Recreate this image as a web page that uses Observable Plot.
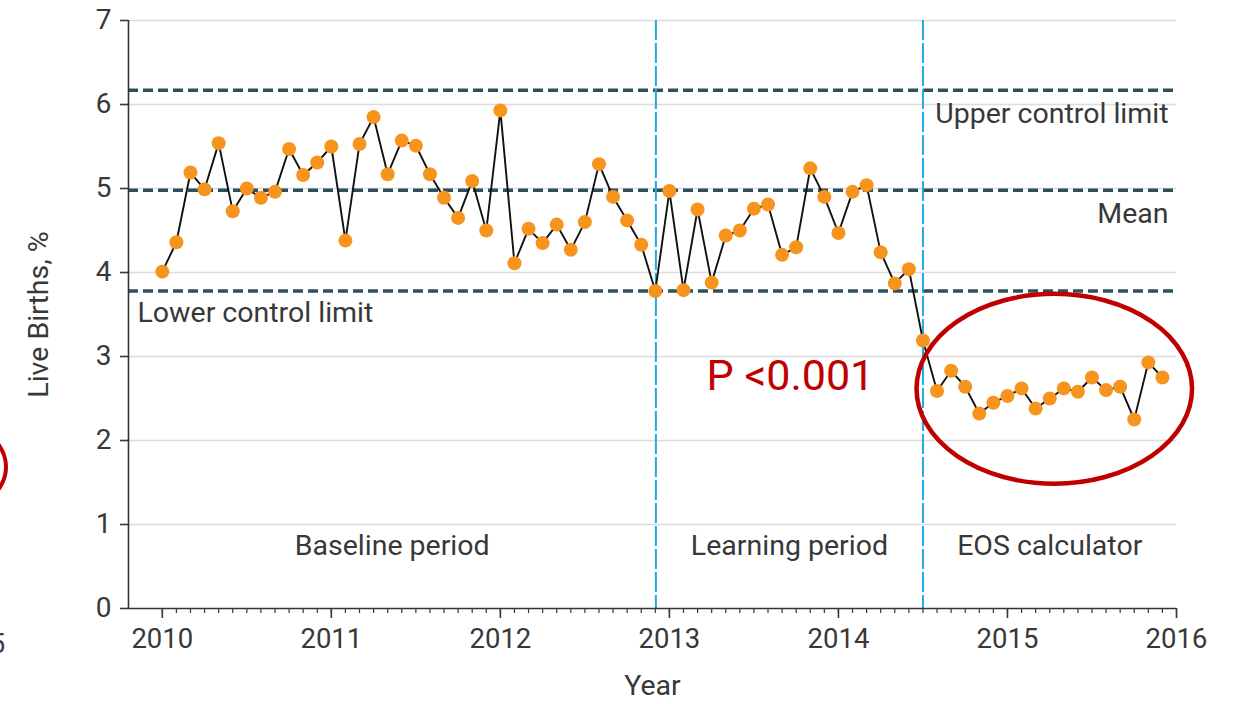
<!DOCTYPE html>
<html><head><meta charset="utf-8">
<script src="https://cdn.jsdelivr.net/npm/d3@7"></script>
<script src="https://cdn.jsdelivr.net/npm/@observablehq/plot@0.6"></script>
<style>
body{margin:0;background:#fff}
#chart{position:relative;width:1233px;height:704px;overflow:hidden}
#chart svg{position:absolute;left:0;top:0}
.edge-arc{position:absolute;left:-120px;top:418px;width:120px;height:90px;border:4.5px solid #c00000;border-radius:50%;box-sizing:content-box}
.edge-num{position:absolute;left:-10px;top:628px;font:27px Roboto,sans-serif;color:#3a3a5a}
</style>
</head><body><div id="chart"><div class="edge-arc"></div><div class="edge-num">5</div></div>
<script>
// Monthly live-births percentages, Jan 2010 – Dec 2015
const startYear = 2010;
const liveBirthsPct = [
  4.01,4.36,5.19,4.99,5.54,4.73,5.00,4.89,4.96,5.47,5.16,5.31,
  5.50,4.38,5.53,5.85,5.17,5.57,5.51,5.17,4.89,4.65,5.09,4.50,
  5.93,4.11,4.52,4.35,4.57,4.27,4.60,5.29,4.90,4.62,4.33,3.78,
  4.97,3.79,4.75,3.88,4.44,4.50,4.76,4.81,4.21,4.30,5.24,4.90,
  4.47,4.96,5.04,4.24,3.87,4.04,3.19,2.59,2.83,2.64,2.32,2.45,
  2.53,2.62,2.38,2.50,2.62,2.58,2.75,2.60,2.64,2.25,2.93,2.75
];
const controlLabels = ["Upper control limit", "Mean", "Lower control limit"];
const controlValues = [6.17, 4.98, 3.78];
const periodLabels = ["Baseline period", "Learning period", "EOS calculator"];
const periodBounds = [2009.8, 2012.92, 2014.5, 2016];
const yTicks = [0, 1, 2, 3, 4, 5, 6, 7];
const yearTicks = [2010, 2011, 2012, 2013, 2014, 2015, 2016];
const pValueText = "P <0.001";
const pValuePos = {x: 2013.22, y: 2.77};
const eosHighlight = {x: 2015.28, y: 2.61, rx: 0.815, ry: 1.13};

const data = liveBirthsPct.map((v, i) => ({t: startYear + i / 12, v}));
const monthTicks = d3.range((yearTicks[yearTicks.length-1] - yearTicks[0]) * 12 + 1).map(i => yearTicks[0] + i / 12);
const controls = controlLabels.map((label, i) => ({label, value: controlValues[i]}));
const periods = periodLabels.map((label, i) => ({label, mid: (periodBounds[i] + periodBounds[i+1]) / 2}));
const boundaries = periodBounds.slice(1, -1);

const txt = "#383838";
const labelSize = 28.5;
const plot = Plot.plot({
  width: 1233, height: 704,
  marginLeft: 128, marginRight: 57, marginTop: 20, marginBottom: 96,
  style: {fontFamily: "Roboto, 'Open Sans', sans-serif", color: txt, background: "transparent", overflow: "visible"},
  x: {domain: [periodBounds[0], periodBounds[3]], axis: null},
  y: {domain: [0, 7], axis: null},
  marks: [
    Plot.ruleY(yTicks.slice(1), {stroke: "#dcdcdc", strokeWidth: 1.5}),
    Plot.ruleY(controls, {y: "value", stroke: "#2d505c", strokeWidth: 3.5, strokeDasharray: "10,5"}),
    Plot.ruleX(boundaries, {stroke: "#22a8e3", strokeWidth: 2, strokeDasharray: "20,3"}),
    Plot.line(data, {x: "t", y: "v", stroke: "#111", strokeWidth: 1.9}),
    Plot.dot(data, {x: "t", y: "v", r: 7, fill: "#f7941d"}),
    Plot.ruleY([0], {stroke: "#333", strokeWidth: 1.6}),
    Plot.ruleX([periodBounds[0]], {stroke: "#333", strokeWidth: 1.6}),
    Plot.axisY(yTicks, {tickSize: 8, tickPadding: 9, fontSize: 28, label: null, tickFormat: d => String(d), strokeWidth: 1.6}),
    Plot.axisX(monthTicks, {tickSize: 5, tickFormat: () => "", label: null, strokeWidth: 1.2}),
    Plot.axisX(yearTicks, {tickSize: 10, tickPadding: 10, fontSize: 27.5, label: null, tickFormat: d => String(d), strokeWidth: 1.6}),
    Plot.text(["Year"], {frameAnchor: "bottom", dy: 86, fontSize: labelSize, fill: txt}),
    Plot.text(["Live Births, %"], {frameAnchor: "left", textAnchor: "middle", dx: -90, rotate: -90, fontSize: labelSize, fill: txt}),
    Plot.text(controls.slice(0, 2), {x: periodBounds[3], y: "value", text: "label", textAnchor: "end", dx: -8, dy: 24, fontSize: labelSize, fill: txt}),
    Plot.text(controls.slice(2), {x: periodBounds[0], y: "value", text: "label", textAnchor: "start", dx: 9, dy: 22, fontSize: labelSize, fill: txt}),
    Plot.text(periods, {x: "mid", y: 0.75, text: "label", fontSize: labelSize, fill: txt}),
    Plot.text([pValueText], {x: pValuePos.x, y: pValuePos.y, textAnchor: "start", fontSize: 43, fill: "#c00000"})
  ]
});
const sx = plot.scale("x"), sy = plot.scale("y");
d3.select(plot).append("ellipse")
  .attr("cx", sx.apply(eosHighlight.x))
  .attr("cy", sy.apply(eosHighlight.y))
  .attr("rx", sx.apply(eosHighlight.x + eosHighlight.rx) - sx.apply(eosHighlight.x))
  .attr("ry", sy.apply(eosHighlight.y) - sy.apply(eosHighlight.y + eosHighlight.ry))
  .attr("fill", "none").attr("stroke", "#c00000").attr("stroke-width", 4.5);
document.getElementById("chart").appendChild(plot);
</script>
</body></html>
